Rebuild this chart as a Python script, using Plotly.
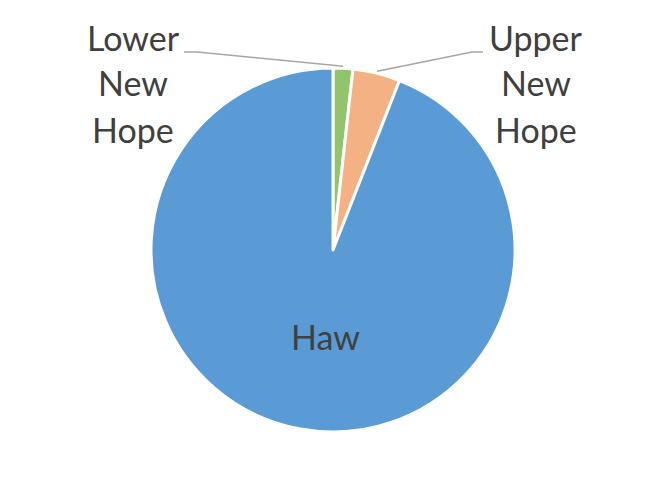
import math
import plotly.graph_objects as go

labels = ["Lower New Hope", "Upper New Hope", "Haw"]
label_lines = [["Lower", "New", "Hope"], ["Upper", "New", "Hope"], ["Haw"]]
values = [1.75, 4.2, 94.05]
colors = ["#91C46C", "#F4B183", "#5B9BD5"]

W, H = 649, 491
OFF = 8  # browser body margin
cx, cy, R = 333, 250, 182

def px(x, y):
    return (x - OFF) / W, 1 - (y - OFF) / H

dx0, dy1 = px(cx - R, cy - R)
dx1, dy0 = px(cx + R, cy + R)

fig = go.Figure(go.Pie(
    labels=labels, values=values, sort=False, direction="clockwise", rotation=0,
    marker=dict(colors=colors, line=dict(color="white", width=3)),
    textinfo="none", hoverinfo="label+value",
    domain=dict(x=[dx0, dx1], y=[dy0, dy1]),
    showlegend=False,
))

total = sum(values)
cum = 0
mids = []
for v in values:
    mids.append((cum + v / 2) / total * 2 * math.pi)
    cum += v

font = dict(family="Lato, Open Sans, sans-serif", size=34, color="#404040")
annotations = []
shapes = []
label_pos = [(133, 83), (536, 83)]
elbow = [((184, 52), (197, 52)), ((483, 52), (472, 52))]
LS = 46
for i in range(2):
    a = mids[i]
    ex = cx + (R + 2) * math.sin(a)
    ey = cy - (R + 2) * math.cos(a)
    pts = [px(*elbow[i][0]), px(*elbow[i][1]), px(ex, ey)]
    path = "M " + " L ".join(f"{x},{y}" for x, y in pts)
    shapes.append(dict(type="path", xref="paper", yref="paper", path=path,
                       line=dict(color="#A6A6A6", width=1.5)))
    lxc, lyc = label_pos[i]
    n = len(label_lines[i])
    for k, t in enumerate(label_lines[i]):
        lx, ly = px(lxc, lyc + (k - (n - 1) / 2) * LS)
        annotations.append(dict(x=lx, y=ly, xref="paper", yref="paper", text=t,
                                showarrow=False, font=font, xanchor="center", yanchor="middle"))
hx, hy = px(325, 336)
annotations.append(dict(x=hx, y=hy, xref="paper", yref="paper", text=label_lines[2][0],
                        showarrow=False, font=font, xanchor="center", yanchor="middle"))

fig.update_layout(
    width=W, height=H, margin=dict(l=0, r=0, t=0, b=0),
    paper_bgcolor="white", plot_bgcolor="white",
    annotations=annotations, shapes=shapes,
)
fig.write_html("out.html")
